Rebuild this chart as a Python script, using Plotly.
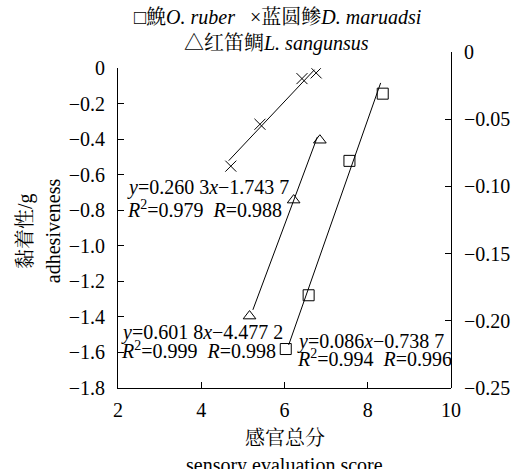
import plotly.graph_objects as go

# ---- data ----
# 鮸 O. ruber (right axis)
sq_x = [6.03, 6.58, 7.56, 8.36]
sq_y = [-0.221, -0.181, -0.081, -0.031]
sq_fit_x = [6.1, 8.31]
sq_fit_y = [-0.218, -0.023]

# 蓝圆鲹 D. maruadsi (left axis)
cr_x = [4.71, 5.41, 6.42, 6.76]
cr_y = [-0.551, -0.315, -0.058, -0.026]
cr_fit_x = [4.66, 6.72]
cr_fit_y = [-0.52, -0.008]

# 红笛鲷 L. sangunsus (left axis)
tr_x = [5.16, 6.22, 6.85]
tr_y = [-1.395, -0.742, -0.405]
tr_fit_x = [5.24, 6.79]
tr_fit_y = [-1.36, -0.386]

x_ticks = [2, 4, 6, 8, 10]
x_ticktext = ["2", "4", "6", "8", "10"]
yl_ticks = [0, -0.2, -0.4, -0.6, -0.8, -1.0, -1.2, -1.4, -1.6, -1.8]
yl_ticktext = ["0", "\u22120.2", "\u22120.4", "\u22120.6", "\u22120.8", "\u22121.0",
               "\u22121.2", "\u22121.4", "\u22121.6", "\u22121.8"]
yr_ticks = [0, -0.05, -0.10, -0.15, -0.20, -0.25]
yr_ticktext = ["0", "\u22120.05", "\u22120.10", "\u22120.15", "\u22120.20", "\u22120.25"]

FONT = "Liberation Serif, Noto Serif CJK SC, Noto Sans CJK SC, serif"
FS = 20

W, H = 522, 469
L, R, T, B = 118, 60, 52, 81
plot_w = W - L - R
plot_h = H - T - B

def px(xpix):
    return (xpix - L) / plot_w

def py(ypix):
    return (H - B - ypix) / plot_h

fig = go.Figure()
line_style = dict(color="black", width=1)

fig.add_trace(go.Scatter(x=cr_fit_x, y=cr_fit_y, mode="lines", line=line_style,
                         xaxis="x", yaxis="y", showlegend=False))
fig.add_trace(go.Scatter(x=cr_x, y=cr_y, mode="markers",
                         marker=dict(symbol="x-thin-open", size=11,
                                     line=dict(color="black", width=1), color="black"),
                         xaxis="x", yaxis="y", showlegend=False))
fig.add_trace(go.Scatter(x=tr_fit_x, y=tr_fit_y, mode="lines", line=line_style,
                         xaxis="x", yaxis="y", showlegend=False))
fig.add_trace(go.Scatter(x=tr_x, y=tr_y, mode="markers",
                         marker=dict(symbol="triangle-up-open", size=11,
                                     line=dict(color="black", width=1), color="black"),
                         xaxis="x", yaxis="y", showlegend=False))
fig.add_trace(go.Scatter(x=sq_fit_x, y=sq_fit_y, mode="lines", line=line_style,
                         xaxis="x", yaxis="y2", showlegend=False))
fig.add_trace(go.Scatter(x=sq_x, y=sq_y, mode="markers",
                         marker=dict(symbol="square-open", size=11,
                                     line=dict(color="black", width=1), color="black"),
                         xaxis="x", yaxis="y2", showlegend=False))

left_top = py(68.3)

axis_common = dict(showgrid=False, zeroline=False, showline=True, linecolor="black",
                   linewidth=1, ticks="inside", tickcolor="black", tickwidth=1,
                   tickfont=dict(family=FONT, size=FS, color="black"))

fig.update_layout(
    width=W, height=H,
    margin=dict(l=L, r=R, t=T, b=B),
    paper_bgcolor="white", plot_bgcolor="rgba(0,0,0,0)",
    font=dict(family=FONT, size=FS, color="black"),
    showlegend=False,
    xaxis=dict(range=[2, 10], tickvals=x_ticks, ticktext=x_ticktext, ticklen=6,
               anchor="y", ticklabelstandoff=4, **axis_common),
    yaxis=dict(range=[-1.8, 0], tickvals=yl_ticks, ticktext=yl_ticktext, ticklen=6,
               domain=[0, left_top], anchor="x", ticklabelstandoff=8, **axis_common),
    yaxis2=dict(range=[-0.25, 0], tickvals=yr_ticks, ticktext=yr_ticktext, ticklen=6,
                domain=[0, 1], anchor="x", side="right", ticklabelstandoff=8,
                **axis_common),
)

def ann(text, xpix, ypix, xanchor="left", angle=0, yanchor="middle", align="left"):
    fig.add_annotation(text=text, x=px(xpix), y=py(ypix), xref="paper", yref="paper",
                       xanchor=xanchor, yanchor=yanchor, showarrow=False,
                       textangle=angle, align=align,
                       font=dict(family=FONT, size=FS, color="black"))

# legend (as text)
ann("\u25a1鮸<i>O. ruber</i>   \u00d7蓝圆鲹<i>D. maruadsi</i>", 283, 17, xanchor="center")
ann("\u25b3红笛鲷<i>L. sangunsus</i>", 282, 43, xanchor="center")

# equations
ann("<i>y</i>=0.260 3<i>x</i>\u22121.743 7", 125, 187)
ann("<i>R</i><sup>2</sup>=0.979  <i>R</i>=0.988", 125, 209)
ann("<i>y</i>=0.601 8<i>x</i>\u22124.477 2", 119, 332)
ann("<i>R</i><sup>2</sup>=0.999  <i>R</i>=0.998", 119, 350)
ann("<i>y</i>=0.086<i>x</i>\u22120.738 7", 301, 341)
ann("<i>R</i><sup>2</sup>=0.994  <i>R</i>=0.996", 301, 358)

# axis titles
ann("黏着性/g", 22, 231, xanchor="center", angle=-90, align="center")
ann("adhesiveness", 51, 231, xanchor="center", angle=-90, align="center")
ann("感官总分", 290, 438, xanchor="center", align="center")
ann("sensory evaluation score", 290, 465, xanchor="center", align="center")

fig.write_html("out.html", config={"displayModeBar": False},
               post_script="document.body.style.margin='0';document.body.style.padding='0';")
